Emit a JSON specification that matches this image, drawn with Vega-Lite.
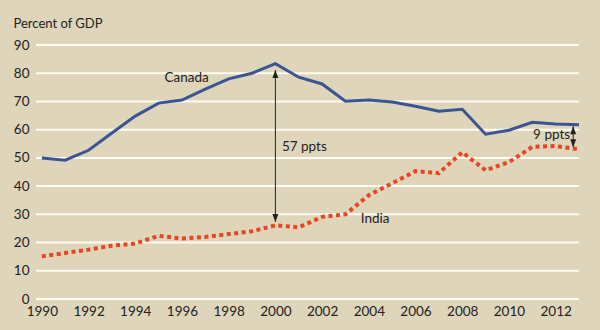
{
  "$schema": "https://vega.github.io/schema/vega-lite/v6.json",
  "width": 543,
  "height": 254,
  "autosize": {"type": "none"},
  "padding": {"left": 36, "top": 45, "right": 21, "bottom": 31},
  "background": "#ded5bb",
  "config": {
    "view": {"stroke": null},
    "font": "Lato",
    "axis": {"labelFont": "Lato", "titleFont": "Lato", "labelColor": "#222222", "titleColor": "#222222"},
    "axisX": {
      "values": [1990, 1992, 1994, 1996, 1998, 2000, 2002, 2004, 2006, 2008, 2010, 2012],
      "format": "d", "title": null, "grid": false, "domain": false, "ticks": false,
      "labelFontSize": 13.5, "labelPadding": 5, "labelDx": -5, "labelFlush": false, "labelOverlap": false
    },
    "axisY": {
      "values": [0, 10, 20, 30, 40, 50, 60, 70, 80, 90],
      "titleAngle": 0, "titleAlign": "left", "titleBaseline": "alphabetic",
      "titleX": -23, "titleY": -18, "titleFontSize": 13, "titleFontWeight": "normal",
      "grid": false, "domain": false, "ticks": false, "labelFontSize": 13.5, "labelPadding": 7, "labelOverlap": false
    }
  },
  "datasets": {
    "grid": [
      {"value": 0}, {"value": 10}, {"value": 20}, {"value": 30}, {"value": 40},
      {"value": 50}, {"value": 60}, {"value": 70}, {"value": 80}, {"value": 90}
    ],
    "series": [
      {"year": 1990, "country": "Canada", "value": 50.0},
      {"year": 1991, "country": "Canada", "value": 49.2},
      {"year": 1992, "country": "Canada", "value": 52.7},
      {"year": 1993, "country": "Canada", "value": 58.8},
      {"year": 1994, "country": "Canada", "value": 64.8},
      {"year": 1995, "country": "Canada", "value": 69.4},
      {"year": 1996, "country": "Canada", "value": 70.5},
      {"year": 1997, "country": "Canada", "value": 74.4},
      {"year": 1998, "country": "Canada", "value": 78.0},
      {"year": 1999, "country": "Canada", "value": 80.0},
      {"year": 2000, "country": "Canada", "value": 83.4},
      {"year": 2001, "country": "Canada", "value": 78.6},
      {"year": 2002, "country": "Canada", "value": 76.2},
      {"year": 2003, "country": "Canada", "value": 70.1},
      {"year": 2004, "country": "Canada", "value": 70.5},
      {"year": 2005, "country": "Canada", "value": 69.8},
      {"year": 2006, "country": "Canada", "value": 68.3},
      {"year": 2007, "country": "Canada", "value": 66.5},
      {"year": 2008, "country": "Canada", "value": 67.2},
      {"year": 2009, "country": "Canada", "value": 58.4},
      {"year": 2010, "country": "Canada", "value": 59.8},
      {"year": 2011, "country": "Canada", "value": 62.6},
      {"year": 2012, "country": "Canada", "value": 62.0},
      {"year": 2013, "country": "Canada", "value": 61.7},
      {"year": 1990, "country": "India", "value": 15.1},
      {"year": 1991, "country": "India", "value": 16.3},
      {"year": 1992, "country": "India", "value": 17.5},
      {"year": 1993, "country": "India", "value": 18.9},
      {"year": 1994, "country": "India", "value": 19.6},
      {"year": 1995, "country": "India", "value": 22.4},
      {"year": 1996, "country": "India", "value": 21.4},
      {"year": 1997, "country": "India", "value": 22.0},
      {"year": 1998, "country": "India", "value": 23.0},
      {"year": 1999, "country": "India", "value": 24.0},
      {"year": 2000, "country": "India", "value": 26.1},
      {"year": 2001, "country": "India", "value": 25.4},
      {"year": 2002, "country": "India", "value": 29.1},
      {"year": 2003, "country": "India", "value": 30.0},
      {"year": 2004, "country": "India", "value": 36.8},
      {"year": 2005, "country": "India", "value": 41.0},
      {"year": 2006, "country": "India", "value": 45.3},
      {"year": 2007, "country": "India", "value": 44.6},
      {"year": 2008, "country": "India", "value": 52.0},
      {"year": 2009, "country": "India", "value": 45.6},
      {"year": 2010, "country": "India", "value": 48.5},
      {"year": 2011, "country": "India", "value": 53.9},
      {"year": 2012, "country": "India", "value": 54.2},
      {"year": 2013, "country": "India", "value": 53.0}
    ],
    "arrows": [
      {"year": 2000, "value": 81.1, "value2": 27.3},
      {"year": 2012.75, "value": 61.2, "value2": 53.8}
    ],
    "labels": [
      {"year": 1996.2, "value": 78.3, "text": "Canada", "align": "center"},
      {"year": 2004.27, "value": 28.3, "text": "India", "align": "center"},
      {"year": 2000.28, "value": 53.8, "text": "57 ppts", "align": "left"},
      {"year": 2012.62, "value": 58.0, "text": "9 ppts", "align": "right"}
    ]
  },
  "layer": [
    {
      "data": {"name": "grid"},
      "mark": {"type": "rule", "color": "#fffcf2", "strokeWidth": 2, "opacity": 1},
      "encoding": {
        "y": {"field": "value", "type": "quantitative", "scale": {"domain": [0, 90], "nice": false}, "title": "Percent of GDP"}
      }
    },
    {
      "data": {"name": "series"},
      "transform": [{"filter": "datum.country === 'Canada'"}],
      "mark": {"type": "line", "color": "#3a5594", "strokeWidth": 3, "clip": false},
      "encoding": {
        "x": {"field": "year", "type": "quantitative", "scale": {"domain": [1989.75, 2013], "nice": false, "zero": false}},
        "y": {"field": "value", "type": "quantitative", "title": "Percent of GDP"}
      }
    },
    {
      "data": {"name": "series"},
      "transform": [{"filter": "datum.country === 'India'"}],
      "mark": {"type": "line", "color": "#ea4420", "strokeWidth": 4, "strokeDash": [4, 3.5], "clip": false},
      "encoding": {
        "x": {"field": "year", "type": "quantitative"},
        "y": {"field": "value", "type": "quantitative", "title": "Percent of GDP"}
      }
    },
    {
      "data": {"name": "arrows"},
      "mark": {"type": "rule", "color": "#222222", "strokeWidth": 1},
      "encoding": {
        "x": {"field": "year", "type": "quantitative"},
        "y": {"field": "value", "type": "quantitative", "title": "Percent of GDP"},
        "y2": {"field": "value2"}
      }
    },
    {
      "data": {"name": "arrows"},
      "mark": {"type": "point", "shape": "M0,0L-0.75,2L0.75,2Z", "filled": true, "color": "#222222", "size": 64, "opacity": 1},
      "encoding": {
        "x": {"field": "year", "type": "quantitative"},
        "y": {"field": "value", "type": "quantitative", "title": "Percent of GDP"}
      }
    },
    {
      "data": {"name": "arrows"},
      "mark": {"type": "point", "shape": "M0,0L-0.75,-2L0.75,-2Z", "filled": true, "color": "#222222", "size": 64, "opacity": 1},
      "encoding": {
        "x": {"field": "year", "type": "quantitative"},
        "y": {"field": "value2", "type": "quantitative", "title": "Percent of GDP"}
      }
    },
    {
      "data": {"name": "labels"},
      "transform": [{"filter": "datum.align === 'center'"}],
      "mark": {"type": "text", "fontSize": 13.5, "color": "#222222", "baseline": "middle", "align": "center"},
      "encoding": {
        "x": {"field": "year", "type": "quantitative"},
        "y": {"field": "value", "type": "quantitative", "title": "Percent of GDP"},
        "text": {"field": "text"}
      }
    },
    {
      "data": {"name": "labels"},
      "transform": [{"filter": "datum.align === 'left'"}],
      "mark": {"type": "text", "fontSize": 13.5, "color": "#222222", "baseline": "middle", "align": "left"},
      "encoding": {
        "x": {"field": "year", "type": "quantitative"},
        "y": {"field": "value", "type": "quantitative", "title": "Percent of GDP"},
        "text": {"field": "text"}
      }
    },
    {
      "data": {"name": "labels"},
      "transform": [{"filter": "datum.align === 'right'"}],
      "mark": {"type": "text", "fontSize": 13.5, "color": "#222222", "baseline": "middle", "align": "right"},
      "encoding": {
        "x": {"field": "year", "type": "quantitative"},
        "y": {"field": "value", "type": "quantitative", "title": "Percent of GDP"},
        "text": {"field": "text"}
      }
    }
  ]
}
